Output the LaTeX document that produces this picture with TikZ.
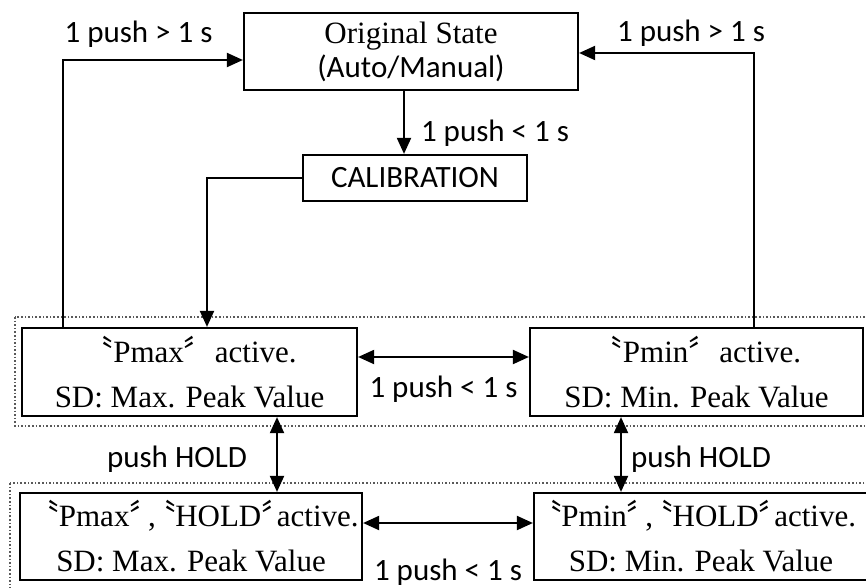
\documentclass[tikz,border=0pt]{standalone}
\usepackage{fontspec}
\setmainfont{Liberation Serif}
\newfontfamily\calibri{Carlito}
\newfontfamily\cjk{Noto Sans CJK SC}
\newfontfamily\cjkp[RawFeature=+palt]{Noto Sans CJK SC}
\usetikzlibrary{arrows.meta}
\newcommand{\qo}{{\cjk 〝}}
\newcommand{\qc}{{\cjk 〞}}
% narrow quotes for the long lines
\newcommand{\nqo}{{\cjkp 〝}}
\newcommand{\nqc}{{\cjkp 〞}}

\begin{document}
\begin{tikzpicture}[x=0.5pt,y=-0.5pt]
	\tikzstyle{mode}=[rectangle, draw=black, line width=1.1pt, inner sep=0pt, align=center, font=\fontsize{15.5}{22.5}\selectfont]
	\tikzstyle{grp}=[draw=black!65, densely dotted, line width=0.8pt]
	\tikzstyle{lbl}=[font=\calibri\fontsize{15.5}{18}\selectfont, inner sep=0pt]
	\tikzstyle{link}=[line width=1pt, -{Triangle[length=8pt,width=7pt]}]
	\tikzstyle{dlink}=[line width=1pt, {Triangle[length=8pt,width=7pt]}-{Triangle[length=8pt,width=7pt]}]
	\clip (0,0) rectangle (866,588);

	% dotted groups
	\draw[grp] (15,317) rectangle (880,426);
	\draw[grp] (10,483) rectangle (880,600);

	\node[mode, minimum width=167pt, minimum height=38.5pt, font=\fontsize{15.5}{17}\selectfont] (orig) at (411,51.5) {Original State\\{\calibri (Auto/Manual)}};
	\node[mode, minimum width=112pt, minimum height=23pt] (calib) at (415,178) {\calibri CALIBRATION};

	\node[mode, minimum width=167.5pt, minimum height=44pt] (pmax) at (189.5,372) {\qo Pmax\qc active.\\SD: Max. Peak Value};
	\node[mode, minimum width=166.5pt, minimum height=44pt] (pmin) at (696.5,372) {\qo Pmin\qc active.\\SD: Min. Peak Value};
	\node[mode, minimum width=171pt, minimum height=43.5pt] (pmaxhold) at (191,536.5) {\hspace*{10pt}\nqo Pmax\nqc\kern1.5pt,\kern2pt\nqo HOLD\nqc active.\\SD: Max. Peak Value};
	\node[mode, minimum width=167pt, minimum height=43.5pt] (pminhold) at (701,536.5) {\nqo Pmin\nqc\kern1.5pt,\kern2pt\nqo HOLD\nqc active.\\SD: Min. Peak Value};

	\coordinate (ll) at (63,60);
	\coordinate (rl) at (754,53);
	\coordinate (ca) at (404,0);
	\coordinate (cp) at (207,0);
	\coordinate (hl) at (277,0);
	\coordinate (hr) at (621,0);

	% back to the original state
	\draw[link] (pmax.north -| ll) |- node[lbl, pos=0.71, anchor=base, yshift=8.5pt] {1 push > 1 s} (orig.west |- ll);
	\draw[link] (pmin.north -| rl) |- node[lbl, pos=0.68, anchor=base, yshift=5.5pt] {1 push > 1 s} (orig.east |- rl);

	\draw[link] (orig.south -| ca) -- node[lbl, pos=0.8, anchor=base west, xshift=8pt] {1 push < 1 s} (calib.north -| ca);
	\draw[link] (calib.west) -| (pmax.north -| cp);

	\path[dlink]
		([yshift=7.5pt]pmax.east) edge node[lbl, anchor=base, yshift=-20pt] {1 push < 1 s} ([yshift=7.5pt]pmin.west)
		([yshift=6.75pt]pmaxhold.east) edge node[lbl, anchor=base, yshift=-28.5pt] {1 push < 1 s} ([yshift=6.75pt]pminhold.west)
		(pmax.south -| hl) edge node[lbl, pos=0.675, anchor=base east, xshift=-14.5pt] {push HOLD} (pmaxhold.north -| hl)
		(pmin.south -| hr) edge node[lbl, pos=0.675, anchor=base west, xshift=4.5pt] {push HOLD} (pminhold.north -| hr);
\end{tikzpicture}
\end{document}
